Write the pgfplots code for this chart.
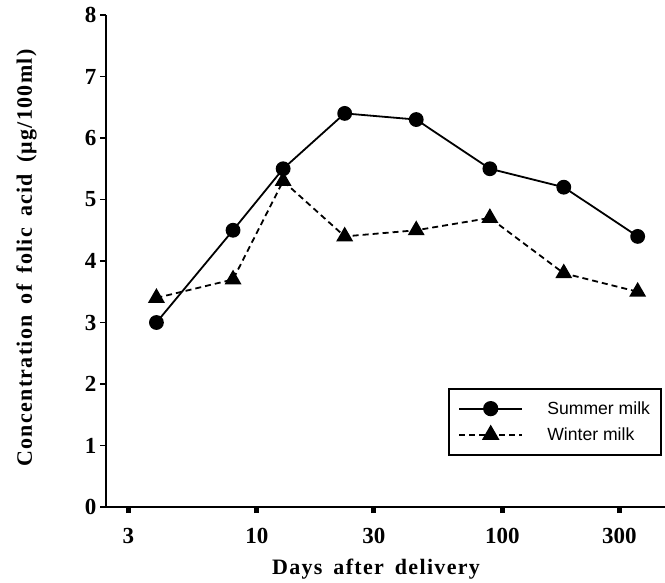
\documentclass[border=0pt]{standalone}
\usepackage{fontspec}
\setmainfont{Liberation Serif}
\newfontfamily\legfont{Liberation Sans}
\newfontfamily\labfont{Liberation Serif}[LetterSpace=6]
\usepackage{pgfplots}
\pgfplotsset{compat=1.18}
\newcommand{\ws}{\hspace{0.5em}}
\begin{document}
\begin{tikzpicture}
\begin{axis}[
  xmode=log, scale only axis, width=559bp, height=492bp,
  xmin=2.43, xmax=460, ymin=0, ymax=8,
  axis lines=left, axis line style={line width=1.6bp, -},
  xtick={3,10,30,100,300}, xticklabels={3,10,30,100,300},
  ytick={0,1,2,3,4,5,6,7,8}, yticklabels={0,1,2,3,4,5,6,7,8},
  xminorticks=false, yminorticks=false,
  tick align=outside, major tick length=6bp,
  x tick style={line width=5bp, black}, y tick style={line width=1.2bp, black},
  ticklabel style={font=\fontsize{23bp}{27bp}\selectfont\bfseries},
  xticklabel style={yshift=-12bp},
  xlabel={Days\ws after\ws delivery},
  ylabel={Concentration\ws of\ws folic\ws acid\ws (μg/100ml)},
  label style={font=\labfont\fontsize{22bp}{26bp}\selectfont\bfseries},
  xlabel style={at={(axis description cs:0.483,0)}, anchor=base, yshift=-67bp},
  ylabel style={at={(axis description cs:-0.1324,0.506)}, anchor=base},
  legend cell align=left,
  every axis legend/.append style={line width=2bp},
  legend style={at={(axis description cs:0.9946,0.1037)}, anchor=south east,
    draw=black, line width=2bp, font=\legfont\fontsize{17.6bp}{20bp}\selectfont,
    inner xsep=9bp, inner ysep=11bp, row sep=8bp,
    /tikz/every odd column/.append style={column sep=22bp}},
  legend image code/.code={\draw[mark repeat=2,mark phase=2,#1,line width=2.2bp] plot coordinates {(0bp,0bp) (31.5bp,0bp) (63bp,0bp)};},
  clip=false,
]
\addplot[black, line width=1.8bp, mark=*, mark size=6.5bp, mark options={solid}] coordinates {
  (3.9,3.0) (8,4.5) (12.8,5.5) (22.8,6.4) (44.6,6.3) (89,5.5) (178,5.2) (356,4.4)};
\addlegendentry{Summer milk}
\addplot[black, line width=1.8bp, dash pattern=on 6bp off 4bp, mark=triangle*, mark size=8bp, mark options={solid}] coordinates {
  (3.9,3.4) (8,3.7) (12.8,5.3) (22.8,4.4) (44.6,4.5) (89,4.7) (178,3.8) (356,3.5)};
\addlegendentry{Winter milk}
\end{axis}
\pgfresetboundingbox
\path[use as bounding box] (-106bp,-76bp) rectangle (559bp,507bp);
\end{tikzpicture}
\end{document}
